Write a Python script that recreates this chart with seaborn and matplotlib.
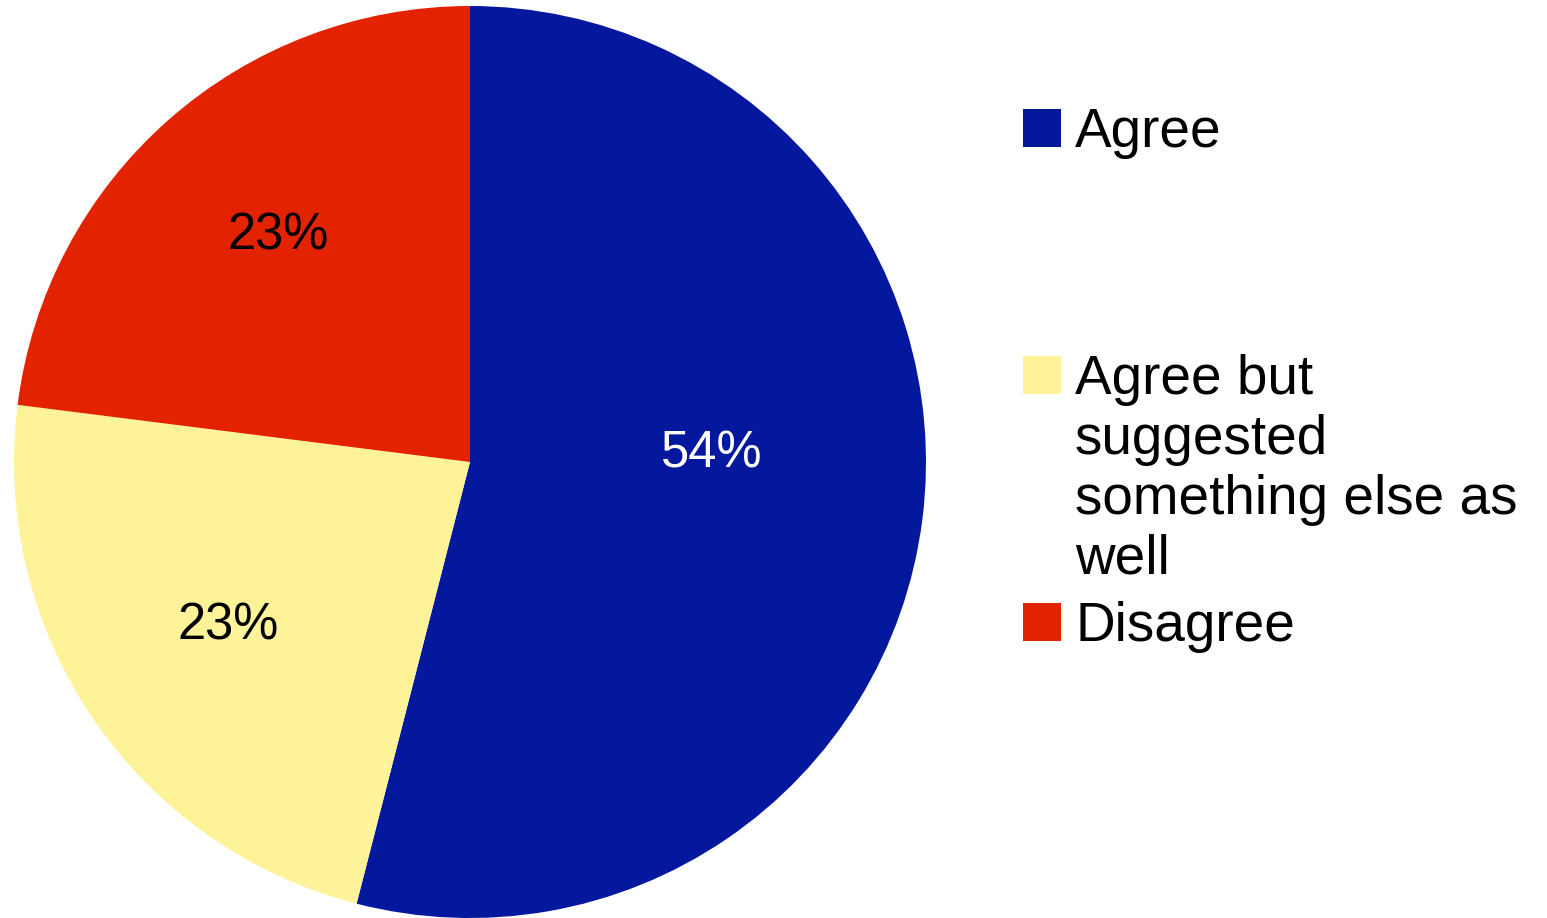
import numpy as np
import matplotlib
matplotlib.use("Agg")
import matplotlib.pyplot as plt
from matplotlib.patches import Rectangle
import seaborn as sns

# Survey responses
categories = ["Agree", "Agree but\nsuggested\nsomething else as\nwell", "Disagree"]
shares = [54, 23, 23]
pct_labels = ["54%", "23%", "23%"]
colors = ["#04189E", "#FFF39A", "#E32200"]
label_colors = ["white", "black", "black"]

sns.set_theme(style="white")
plt.rcParams["font.family"] = ["Liberation Sans", "DejaVu Sans"]

W, H = 1547, 918
fig = plt.figure(figsize=(W / 100, H / 100), dpi=100)
fig.patch.set_facecolor("white")

# pie occupies a square box on the left
cx, cy, r = 470, 462, 456
ax = fig.add_axes([(cx - r) / W, (H - cy - r) / H, 2 * r / W, 2 * r / H])
wedges, _ = ax.pie(shares, colors=colors, startangle=90, counterclock=False,
                   radius=1.0, wedgeprops=dict(linewidth=0))
ax.set_xlim(-1, 1)
ax.set_ylim(-1, 1)
ax.set_aspect("equal")
ax.axis("off")

# percentage labels placed near each wedge's bisector
label_dist = [0.53, 0.64, 0.65]
label_turn = [9.0, 0.0, -1.0]
for w, txt, col, d, t in zip(wedges, pct_labels, label_colors, label_dist, label_turn):
    mid = np.deg2rad((w.theta1 + w.theta2) / 2 + t)
    ax.text(d * np.cos(mid), d * np.sin(mid), txt, color=col,
            fontsize=36.5, ha="center", va="center")

# legend: colour swatches with labels
sw_x, sw_size = 1023, 38
text_x = 1075
rows_top = [109, 356, 603]
for top, lab, col in zip(rows_top, categories, colors):
    fig.patches.append(Rectangle((sw_x / W, (H - top - sw_size) / H),
                                 sw_size / W, sw_size / H,
                                 transform=fig.transFigure, facecolor=col,
                                 edgecolor="none"))
    fig.text(text_x / W, (H - top + 2) / H, lab, fontsize=39.5, color="black",
             ha="left", va="top", linespacing=1.2)

fig.savefig("out.png", dpi=100, facecolor="white")
